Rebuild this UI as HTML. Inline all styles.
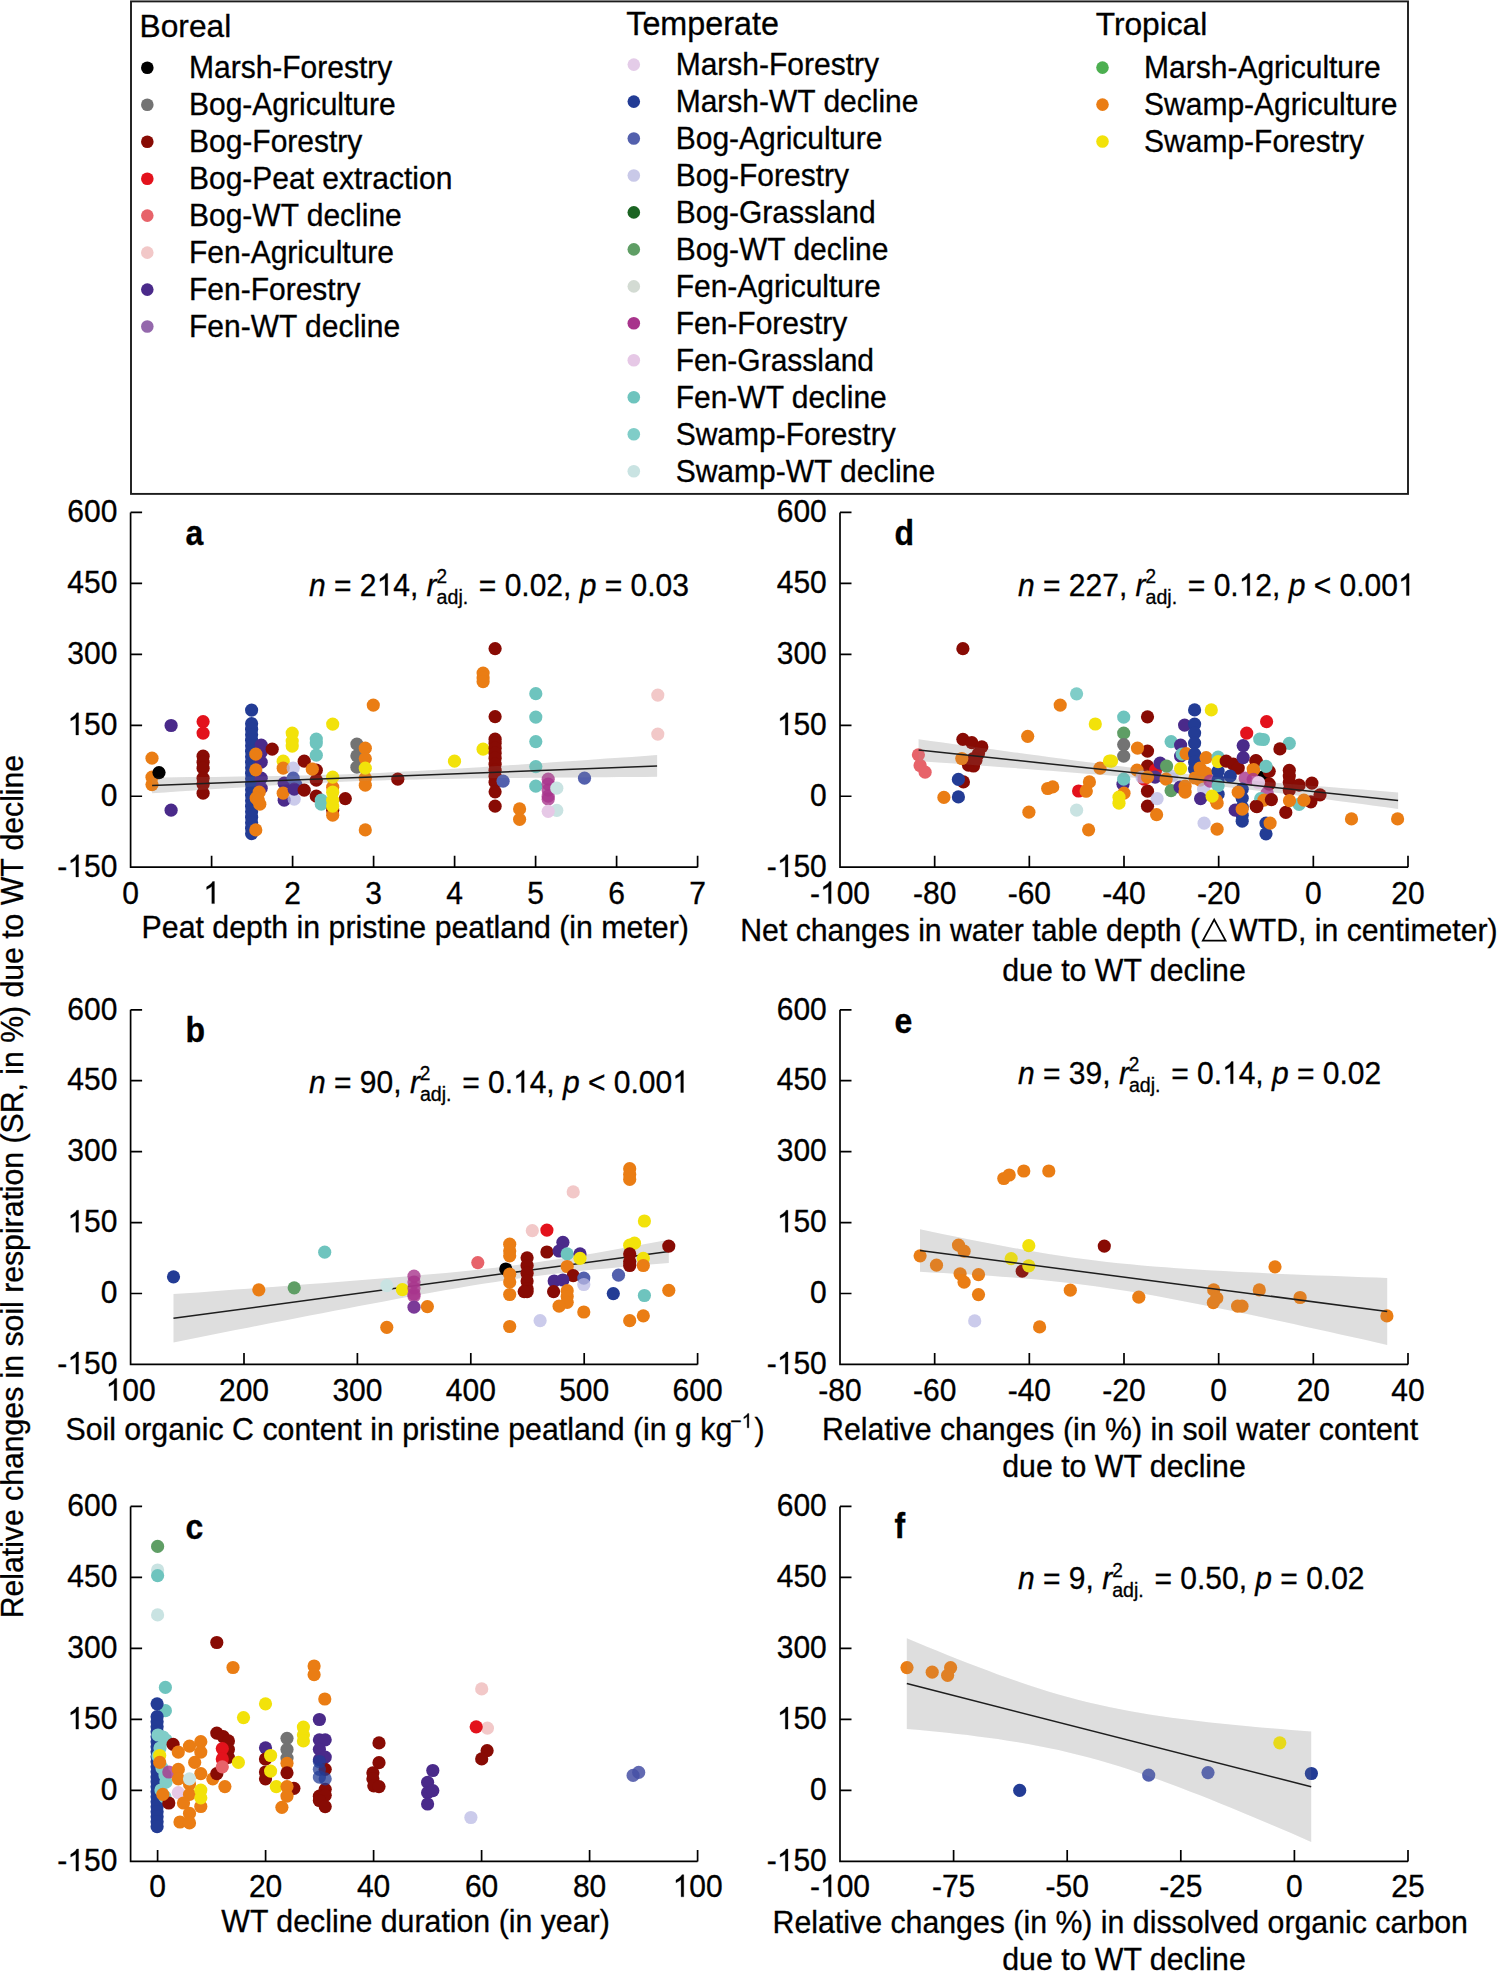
<!DOCTYPE html><html><head><meta charset="utf-8"><style>html,body{margin:0;padding:0;background:#fff;overflow:hidden;}svg{display:block;}text{font-family:"Liberation Sans", sans-serif;fill:#000;stroke:#000;stroke-width:0.3px;}</style></head><body>
<svg width="1498" height="1971" viewBox="0 0 1498 1971">
<rect x="0" y="0" width="1498" height="1971" fill="#fff"/>
<rect x="131.0" y="1.4" width="1277.0" height="492.5" fill="none" stroke="#1c1c1c" stroke-width="1.9"/>
<text transform="translate(139.60,37.00) scale(1,1.0)" font-size="31.7">Boreal</text>
<circle cx="147.3" cy="67.8" r="6.3" fill="#000000"/>
<text transform="translate(189.00,78.30) scale(1,1.03)" font-size="30">Marsh-Forestry</text>
<circle cx="147.3" cy="104.8" r="6.3" fill="#737373"/>
<text transform="translate(189.00,115.26) scale(1,1.03)" font-size="30">Bog-Agriculture</text>
<circle cx="147.3" cy="141.7" r="6.3" fill="#880b04"/>
<text transform="translate(189.00,152.22) scale(1,1.03)" font-size="30">Bog-Forestry</text>
<circle cx="147.3" cy="178.7" r="6.3" fill="#e3121c"/>
<text transform="translate(189.00,189.18) scale(1,1.03)" font-size="30">Bog-Peat extraction</text>
<circle cx="147.3" cy="215.6" r="6.3" fill="#e7636a"/>
<text transform="translate(189.00,226.14) scale(1,1.03)" font-size="30">Bog-WT decline</text>
<circle cx="147.3" cy="252.6" r="6.3" fill="#f2c8c8"/>
<text transform="translate(189.00,263.10) scale(1,1.03)" font-size="30">Fen-Agriculture</text>
<circle cx="147.3" cy="289.6" r="6.3" fill="#4a2a8a"/>
<text transform="translate(189.00,300.06) scale(1,1.03)" font-size="30">Fen-Forestry</text>
<circle cx="147.3" cy="326.5" r="6.3" fill="#9468ac"/>
<text transform="translate(189.00,337.02) scale(1,1.03)" font-size="30">Fen-WT decline</text>
<text transform="translate(626.25,35.00) scale(1,1.0)" font-size="32.3">Temperate</text>
<circle cx="633.8" cy="64.6" r="6.3" fill="#e4cce8"/>
<text transform="translate(675.70,75.10) scale(1,1.03)" font-size="30">Marsh-Forestry</text>
<circle cx="633.8" cy="101.6" r="6.3" fill="#233c95"/>
<text transform="translate(675.70,112.06) scale(1,1.03)" font-size="30">Marsh-WT decline</text>
<circle cx="633.8" cy="138.5" r="6.3" fill="#5360ad"/>
<text transform="translate(675.70,149.02) scale(1,1.03)" font-size="30">Bog-Agriculture</text>
<circle cx="633.8" cy="175.5" r="6.3" fill="#c9c9e8"/>
<text transform="translate(675.70,185.98) scale(1,1.03)" font-size="30">Bog-Forestry</text>
<circle cx="633.8" cy="212.4" r="6.3" fill="#1b6422"/>
<text transform="translate(675.70,222.94) scale(1,1.03)" font-size="30">Bog-Grassland</text>
<circle cx="633.8" cy="249.4" r="6.3" fill="#5f9e65"/>
<text transform="translate(675.70,259.90) scale(1,1.03)" font-size="30">Bog-WT decline</text>
<circle cx="633.8" cy="286.4" r="6.3" fill="#d3dbd3"/>
<text transform="translate(675.70,296.86) scale(1,1.03)" font-size="30">Fen-Agriculture</text>
<circle cx="633.8" cy="323.3" r="6.3" fill="#a8348c"/>
<text transform="translate(675.70,333.82) scale(1,1.03)" font-size="30">Fen-Forestry</text>
<circle cx="633.8" cy="360.3" r="6.3" fill="#e6c8e6"/>
<text transform="translate(675.70,370.78) scale(1,1.03)" font-size="30">Fen-Grassland</text>
<circle cx="633.8" cy="397.2" r="6.3" fill="#6ec4be"/>
<text transform="translate(675.70,407.74) scale(1,1.03)" font-size="30">Fen-WT decline</text>
<circle cx="633.8" cy="434.2" r="6.3" fill="#80cdc8"/>
<text transform="translate(675.70,444.70) scale(1,1.03)" font-size="30">Swamp-Forestry</text>
<circle cx="633.8" cy="471.2" r="6.3" fill="#c9e3e2"/>
<text transform="translate(675.70,481.66) scale(1,1.03)" font-size="30">Swamp-WT decline</text>
<text transform="translate(1095.75,35.20) scale(1,1.0)" font-size="31.7">Tropical</text>
<circle cx="1102.5" cy="67.6" r="6.3" fill="#4caf50"/>
<text transform="translate(1144.10,78.10) scale(1,1.03)" font-size="30">Marsh-Agriculture</text>
<circle cx="1102.5" cy="104.6" r="6.3" fill="#ea7d14"/>
<text transform="translate(1144.10,115.06) scale(1,1.03)" font-size="30">Swamp-Agriculture</text>
<circle cx="1102.5" cy="141.5" r="6.3" fill="#f2e20a"/>
<text transform="translate(1144.10,152.02) scale(1,1.03)" font-size="30">Swamp-Forestry</text>
<g>
<path d="M152.1,777.5L164.7,777.4L177.3,777.3L189.9,777.1L202.6,777.0L215.2,776.9L227.8,776.7L240.4,776.6L253.1,776.4L265.7,776.2L278.3,776.0L290.9,775.7L303.6,775.5L316.2,775.1L328.8,774.8L341.5,774.4L354.1,773.9L366.7,773.4L379.3,772.9L392.0,772.3L404.6,771.6L417.2,771.0L429.8,770.3L442.5,769.5L455.1,768.8L467.7,768.0L480.3,767.2L493.0,766.3L505.6,765.5L518.2,764.7L530.8,763.8L543.5,763.0L556.1,762.1L568.7,761.3L581.3,760.4L594.0,759.5L606.6,758.6L619.2,757.7L631.8,756.9L644.5,756.0L657.1,755.1L657.1,776.8L644.5,776.9L631.8,777.0L619.2,777.1L606.6,777.2L594.0,777.3L581.3,777.4L568.7,777.5L556.1,777.6L543.5,777.7L530.8,777.8L518.2,777.9L505.6,778.0L493.0,778.2L480.3,778.3L467.7,778.5L455.1,778.7L442.5,778.9L429.8,779.1L417.2,779.4L404.6,779.7L392.0,780.0L379.3,780.4L366.7,780.8L354.1,781.3L341.5,781.8L328.8,782.4L316.2,783.0L303.6,783.6L290.9,784.3L278.3,785.0L265.7,785.8L253.1,786.6L240.4,787.4L227.8,788.2L215.2,789.0L202.6,789.8L189.9,790.7L177.3,791.5L164.7,792.4L152.1,793.2Z" fill="#e8e8e8"/>
<circle cx="152.0" cy="758.2" r="6.6" fill="#ea7d14"/>
<circle cx="152.0" cy="777.2" r="6.6" fill="#ea7d14"/>
<circle cx="152.0" cy="784.6" r="6.6" fill="#ea7d14"/>
<circle cx="159.0" cy="772.6" r="6.6" fill="#000000"/>
<circle cx="171.1" cy="725.5" r="6.6" fill="#4a2a8a"/>
<circle cx="171.1" cy="810.2" r="6.6" fill="#4a2a8a"/>
<circle cx="203.1" cy="721.7" r="6.6" fill="#e3121c"/>
<circle cx="203.1" cy="733.1" r="6.6" fill="#e3121c"/>
<circle cx="203.1" cy="756.2" r="6.6" fill="#880b04"/>
<circle cx="203.1" cy="762.2" r="6.6" fill="#880b04"/>
<circle cx="203.1" cy="768.2" r="6.6" fill="#880b04"/>
<circle cx="203.1" cy="778.2" r="6.6" fill="#880b04"/>
<circle cx="203.1" cy="784.2" r="6.6" fill="#880b04"/>
<circle cx="203.1" cy="793.2" r="6.6" fill="#880b04"/>
<circle cx="251.6" cy="710.1" r="6.6" fill="#233c95"/>
<circle cx="251.6" cy="723.7" r="6.6" fill="#233c95"/>
<circle cx="251.6" cy="729.2" r="6.6" fill="#233c95"/>
<circle cx="251.6" cy="734.7" r="6.6" fill="#233c95"/>
<circle cx="251.6" cy="740.2" r="6.6" fill="#233c95"/>
<circle cx="251.6" cy="745.7" r="6.6" fill="#233c95"/>
<circle cx="251.6" cy="751.2" r="6.6" fill="#233c95"/>
<circle cx="251.6" cy="756.7" r="6.6" fill="#233c95"/>
<circle cx="251.6" cy="762.2" r="6.6" fill="#233c95"/>
<circle cx="251.6" cy="767.7" r="6.6" fill="#233c95"/>
<circle cx="251.6" cy="773.2" r="6.6" fill="#233c95"/>
<circle cx="251.6" cy="778.7" r="6.6" fill="#233c95"/>
<circle cx="251.6" cy="784.2" r="6.6" fill="#233c95"/>
<circle cx="251.6" cy="789.7" r="6.6" fill="#233c95"/>
<circle cx="251.6" cy="795.2" r="6.6" fill="#233c95"/>
<circle cx="251.6" cy="800.7" r="6.6" fill="#233c95"/>
<circle cx="251.6" cy="806.2" r="6.6" fill="#233c95"/>
<circle cx="251.6" cy="811.7" r="6.6" fill="#233c95"/>
<circle cx="251.6" cy="817.2" r="6.6" fill="#233c95"/>
<circle cx="251.6" cy="822.7" r="6.6" fill="#233c95"/>
<circle cx="251.6" cy="828.2" r="6.6" fill="#233c95"/>
<circle cx="251.6" cy="833.7" r="6.6" fill="#233c95"/>
<circle cx="261.2" cy="745.1" r="6.6" fill="#4a2a8a"/>
<circle cx="261.2" cy="752.1" r="6.6" fill="#4a2a8a"/>
<circle cx="261.2" cy="762.2" r="6.6" fill="#4a2a8a"/>
<circle cx="261.2" cy="778.2" r="6.6" fill="#4a2a8a"/>
<circle cx="261.2" cy="788.2" r="6.6" fill="#4a2a8a"/>
<circle cx="255.8" cy="754.2" r="6.6" fill="#ea7d14"/>
<circle cx="255.8" cy="769.8" r="6.6" fill="#ea7d14"/>
<circle cx="259.2" cy="792.2" r="6.6" fill="#ea7d14"/>
<circle cx="256.2" cy="798.2" r="6.6" fill="#ea7d14"/>
<circle cx="259.8" cy="804.2" r="6.6" fill="#ea7d14"/>
<circle cx="255.8" cy="829.9" r="6.6" fill="#ea7d14"/>
<circle cx="258.2" cy="800.2" r="6.6" fill="#ea7d14"/>
<circle cx="272.2" cy="749.2" r="6.6" fill="#880b04"/>
<circle cx="292.2" cy="733.1" r="6.6" fill="#f2e20a"/>
<circle cx="292.2" cy="741.1" r="6.6" fill="#f2e20a"/>
<circle cx="292.2" cy="746.1" r="6.6" fill="#f2e20a"/>
<circle cx="283.2" cy="761.2" r="6.6" fill="#f2e20a"/>
<circle cx="283.2" cy="768.2" r="6.6" fill="#ea7d14"/>
<circle cx="284.2" cy="783.2" r="6.6" fill="#4a2a8a"/>
<circle cx="284.2" cy="800.2" r="6.6" fill="#4a2a8a"/>
<circle cx="283.2" cy="793.2" r="6.6" fill="#ea7d14"/>
<circle cx="293.2" cy="768.2" r="6.6" fill="rgba(185,185,228,0.75)"/>
<circle cx="294.2" cy="799.2" r="6.6" fill="rgba(185,185,228,0.75)"/>
<circle cx="293.2" cy="778.2" r="6.6" fill="#5360ad"/>
<circle cx="296.0" cy="785.0" r="6.6" fill="#5360ad"/>
<circle cx="294.2" cy="789.2" r="6.6" fill="#4a2a8a"/>
<circle cx="304.2" cy="761.2" r="6.6" fill="#880b04"/>
<circle cx="304.2" cy="790.2" r="6.6" fill="#880b04"/>
<circle cx="316.3" cy="770.2" r="6.6" fill="#880b04"/>
<circle cx="316.3" cy="780.2" r="6.6" fill="#880b04"/>
<circle cx="316.3" cy="796.2" r="6.6" fill="#880b04"/>
<circle cx="312.3" cy="769.2" r="6.6" fill="#ea7d14"/>
<circle cx="316.3" cy="739.1" r="6.6" fill="#6ec4be"/>
<circle cx="316.3" cy="743.1" r="6.6" fill="#6ec4be"/>
<circle cx="316.3" cy="755.2" r="6.6" fill="#6ec4be"/>
<circle cx="321.3" cy="800.2" r="6.6" fill="#6ec4be"/>
<circle cx="321.3" cy="804.2" r="6.6" fill="#6ec4be"/>
<circle cx="332.7" cy="810.2" r="6.6" fill="#880b04"/>
<circle cx="345.3" cy="798.6" r="6.6" fill="#880b04"/>
<circle cx="332.7" cy="787.2" r="6.6" fill="#ea7d14"/>
<circle cx="332.7" cy="815.2" r="6.6" fill="#ea7d14"/>
<circle cx="332.7" cy="724.1" r="6.6" fill="#f2e20a"/>
<circle cx="332.7" cy="777.2" r="6.6" fill="#f2e20a"/>
<circle cx="332.7" cy="792.2" r="6.6" fill="#f2e20a"/>
<circle cx="332.7" cy="800.2" r="6.6" fill="#f2e20a"/>
<circle cx="332.7" cy="806.2" r="6.6" fill="#f2e20a"/>
<circle cx="356.9" cy="744.1" r="6.6" fill="#737373"/>
<circle cx="356.9" cy="755.8" r="6.6" fill="#737373"/>
<circle cx="356.9" cy="767.2" r="6.6" fill="#737373"/>
<circle cx="365.3" cy="748.2" r="6.6" fill="#ea7d14"/>
<circle cx="365.3" cy="758.6" r="6.6" fill="#ea7d14"/>
<circle cx="365.3" cy="778.2" r="6.6" fill="#ea7d14"/>
<circle cx="365.3" cy="785.2" r="6.6" fill="#ea7d14"/>
<circle cx="365.3" cy="829.9" r="6.6" fill="#ea7d14"/>
<circle cx="365.3" cy="768.2" r="6.6" fill="#f2e20a"/>
<circle cx="373.3" cy="705.1" r="6.6" fill="#ea7d14"/>
<circle cx="397.8" cy="779.2" r="6.6" fill="#880b04"/>
<circle cx="454.5" cy="761.2" r="6.6" fill="#f2e20a"/>
<circle cx="483.1" cy="749.2" r="6.6" fill="#f2e20a"/>
<circle cx="483.1" cy="673.1" r="6.6" fill="#ea7d14"/>
<circle cx="483.1" cy="678.1" r="6.6" fill="#ea7d14"/>
<circle cx="483.1" cy="681.7" r="6.6" fill="#ea7d14"/>
<circle cx="495.1" cy="648.6" r="6.6" fill="#880b04"/>
<circle cx="495.1" cy="716.7" r="6.6" fill="#880b04"/>
<circle cx="495.1" cy="739.2" r="6.6" fill="#880b04"/>
<circle cx="495.1" cy="743.2" r="6.6" fill="#880b04"/>
<circle cx="495.1" cy="748.2" r="6.6" fill="#880b04"/>
<circle cx="495.1" cy="753.2" r="6.6" fill="#880b04"/>
<circle cx="495.1" cy="758.2" r="6.6" fill="#880b04"/>
<circle cx="495.1" cy="764.2" r="6.6" fill="#880b04"/>
<circle cx="495.1" cy="770.2" r="6.6" fill="#880b04"/>
<circle cx="495.1" cy="776.2" r="6.6" fill="#880b04"/>
<circle cx="495.1" cy="782.2" r="6.6" fill="#880b04"/>
<circle cx="495.1" cy="791.8" r="6.6" fill="#880b04"/>
<circle cx="495.1" cy="806.2" r="6.6" fill="#880b04"/>
<circle cx="503.1" cy="781.2" r="6.6" fill="#5360ad"/>
<circle cx="584.5" cy="778.2" r="6.6" fill="#5360ad"/>
<circle cx="535.8" cy="693.7" r="6.6" fill="#6ec4be"/>
<circle cx="535.8" cy="717.1" r="6.6" fill="#6ec4be"/>
<circle cx="535.8" cy="741.6" r="6.6" fill="#6ec4be"/>
<circle cx="535.8" cy="766.6" r="6.6" fill="#6ec4be"/>
<circle cx="535.8" cy="786.2" r="6.6" fill="#6ec4be"/>
<circle cx="548.2" cy="779.2" r="6.6" fill="rgba(168,52,140,0.8)"/>
<circle cx="548.2" cy="784.2" r="6.6" fill="rgba(168,52,140,0.8)"/>
<circle cx="548.2" cy="790.2" r="6.6" fill="rgba(168,52,140,0.8)"/>
<circle cx="548.2" cy="796.2" r="6.6" fill="rgba(168,52,140,0.8)"/>
<circle cx="548.2" cy="799.2" r="6.6" fill="rgba(168,52,140,0.8)"/>
<circle cx="556.8" cy="788.2" r="6.6" fill="#c9e3e2"/>
<circle cx="556.8" cy="810.3" r="6.6" fill="#c9e3e2"/>
<circle cx="548.2" cy="811.3" r="6.6" fill="#e6c8e6"/>
<circle cx="519.6" cy="808.9" r="6.6" fill="#ea7d14"/>
<circle cx="519.6" cy="819.3" r="6.6" fill="#ea7d14"/>
<circle cx="657.8" cy="695.1" r="6.6" fill="#f2c8c8"/>
<circle cx="657.8" cy="734.1" r="6.6" fill="#f2c8c8"/>
<path d="M152.1,777.5L164.7,777.4L177.3,777.3L189.9,777.1L202.6,777.0L215.2,776.9L227.8,776.7L240.4,776.6L253.1,776.4L265.7,776.2L278.3,776.0L290.9,775.7L303.6,775.5L316.2,775.1L328.8,774.8L341.5,774.4L354.1,773.9L366.7,773.4L379.3,772.9L392.0,772.3L404.6,771.6L417.2,771.0L429.8,770.3L442.5,769.5L455.1,768.8L467.7,768.0L480.3,767.2L493.0,766.3L505.6,765.5L518.2,764.7L530.8,763.8L543.5,763.0L556.1,762.1L568.7,761.3L581.3,760.4L594.0,759.5L606.6,758.6L619.2,757.7L631.8,756.9L644.5,756.0L657.1,755.1L657.1,776.8L644.5,776.9L631.8,777.0L619.2,777.1L606.6,777.2L594.0,777.3L581.3,777.4L568.7,777.5L556.1,777.6L543.5,777.7L530.8,777.8L518.2,777.9L505.6,778.0L493.0,778.2L480.3,778.3L467.7,778.5L455.1,778.7L442.5,778.9L429.8,779.1L417.2,779.4L404.6,779.7L392.0,780.0L379.3,780.4L366.7,780.8L354.1,781.3L341.5,781.8L328.8,782.4L316.2,783.0L303.6,783.6L290.9,784.3L278.3,785.0L265.7,785.8L253.1,786.6L240.4,787.4L227.8,788.2L215.2,789.0L202.6,789.8L189.9,790.7L177.3,791.5L164.7,792.4L152.1,793.2Z" fill="#999" fill-opacity="0.12"/>
<line x1="152.1" y1="785.4" x2="657.1" y2="766.0" stroke="#1e1e1e" stroke-width="1.5"/>
<path d="M130.6,512.4L130.6,867.2L697.6,867.2M130.6,512.40h11.5M130.6,583.36h11.5M130.6,654.32h11.5M130.6,725.28h11.5M130.6,796.24h11.5M130.6,867.20h11.5M130.60,867.2v-11.5M211.60,867.2v-11.5M292.60,867.2v-11.5M373.60,867.2v-11.5M454.60,867.2v-11.5M535.60,867.2v-11.5M616.60,867.2v-11.5M697.60,867.2v-11.5" fill="none" stroke="#000" stroke-width="1.7"/>
<text transform="translate(117.40,522.10) scale(1,1.03)" font-size="30" text-anchor="end">600</text>
<text transform="translate(117.40,593.06) scale(1,1.03)" font-size="30" text-anchor="end">450</text>
<text transform="translate(117.40,664.02) scale(1,1.03)" font-size="30" text-anchor="end">300</text>
<text transform="translate(117.40,734.98) scale(1,1.03)" font-size="30" text-anchor="end"><tspan class="d1">1</tspan>50</text>
<text transform="translate(117.40,805.94) scale(1,1.03)" font-size="30" text-anchor="end">0</text>
<text transform="translate(117.40,876.90) scale(1,1.03)" font-size="30" text-anchor="end">-<tspan class="d1">1</tspan>50</text>
<text transform="translate(130.60,903.60) scale(1,1.03)" font-size="30" text-anchor="middle">0</text>
<text transform="translate(211.60,903.60) scale(1,1.03)" font-size="30" text-anchor="middle"><tspan class="d1">1</tspan></text>
<text transform="translate(292.60,903.60) scale(1,1.03)" font-size="30" text-anchor="middle">2</text>
<text transform="translate(373.60,903.60) scale(1,1.03)" font-size="30" text-anchor="middle">3</text>
<text transform="translate(454.60,903.60) scale(1,1.03)" font-size="30" text-anchor="middle">4</text>
<text transform="translate(535.60,903.60) scale(1,1.03)" font-size="30" text-anchor="middle">5</text>
<text transform="translate(616.60,903.60) scale(1,1.03)" font-size="30" text-anchor="middle">6</text>
<text transform="translate(697.60,903.60) scale(1,1.03)" font-size="30" text-anchor="middle">7</text>
</g>
<g>
<path d="M918.6,739.2L930.6,740.9L942.5,742.5L954.5,744.2L966.5,745.8L978.5,747.5L990.5,749.1L1002.5,750.7L1014.5,752.4L1026.5,754.0L1038.4,755.6L1050.4,757.2L1062.4,758.8L1074.4,760.4L1086.4,761.9L1098.4,763.5L1110.4,765.0L1122.4,766.5L1134.3,768.0L1146.3,769.5L1158.3,770.9L1170.3,772.3L1182.3,773.6L1194.3,774.9L1206.3,776.2L1218.3,777.4L1230.2,778.6L1242.2,779.7L1254.2,780.8L1266.2,781.9L1278.2,782.9L1290.2,783.9L1302.2,784.9L1314.1,785.9L1326.1,786.8L1338.1,787.8L1350.1,788.7L1362.1,789.6L1374.1,790.6L1386.1,791.5L1398.1,792.4L1398.1,808.9L1386.1,807.3L1374.1,805.7L1362.1,804.1L1350.1,802.5L1338.1,800.9L1326.1,799.3L1314.1,797.7L1302.2,796.2L1290.2,794.6L1278.2,793.1L1266.2,791.6L1254.2,790.2L1242.2,788.7L1230.2,787.4L1218.3,786.0L1206.3,784.7L1194.3,783.4L1182.3,782.2L1170.3,781.0L1158.3,779.9L1146.3,778.8L1134.3,777.7L1122.4,776.6L1110.4,775.6L1098.4,774.6L1086.4,773.7L1074.4,772.7L1062.4,771.7L1050.4,770.8L1038.4,769.9L1026.5,769.0L1014.5,768.1L1002.5,767.2L990.5,766.3L978.5,765.4L966.5,764.5L954.5,763.6L942.5,762.7L930.6,761.9L918.6,761.0Z" fill="#e8e8e8"/>
<circle cx="1263.5" cy="776.8" r="6.6" fill="#000000"/>
<circle cx="962.9" cy="648.7" r="6.6" fill="#880b04"/>
<circle cx="962.9" cy="739.3" r="6.6" fill="#880b04"/>
<circle cx="971.8" cy="742.7" r="6.6" fill="#880b04"/>
<circle cx="981.8" cy="746.8" r="6.6" fill="#880b04"/>
<circle cx="978.5" cy="753.5" r="6.6" fill="#880b04"/>
<circle cx="973.5" cy="758.5" r="6.6" fill="#880b04"/>
<circle cx="968.5" cy="765.2" r="6.6" fill="#880b04"/>
<circle cx="973.5" cy="766.0" r="6.6" fill="#880b04"/>
<circle cx="963.4" cy="781.9" r="6.6" fill="#880b04"/>
<circle cx="976.0" cy="760.0" r="6.6" fill="#880b04"/>
<circle cx="918.4" cy="754.8" r="6.6" fill="#e7636a"/>
<circle cx="920.1" cy="765.5" r="6.6" fill="#e7636a"/>
<circle cx="925.1" cy="772.2" r="6.6" fill="#e7636a"/>
<circle cx="961.8" cy="758.5" r="6.6" fill="#ea7d14"/>
<circle cx="958.4" cy="779.4" r="6.6" fill="#233c95"/>
<circle cx="958.4" cy="796.9" r="6.6" fill="#233c95"/>
<circle cx="943.9" cy="797.4" r="6.6" fill="#ea7d14"/>
<circle cx="1027.7" cy="736.3" r="6.6" fill="#ea7d14"/>
<circle cx="1028.9" cy="812.2" r="6.6" fill="#ea7d14"/>
<circle cx="1060.2" cy="705.1" r="6.6" fill="#ea7d14"/>
<circle cx="1076.6" cy="693.8" r="6.6" fill="#80cdc8"/>
<circle cx="1095.3" cy="724.0" r="6.6" fill="#f2e20a"/>
<circle cx="1100.0" cy="768.2" r="6.6" fill="#ea7d14"/>
<circle cx="1047.7" cy="788.5" r="6.6" fill="#ea7d14"/>
<circle cx="1052.7" cy="786.9" r="6.6" fill="#ea7d14"/>
<circle cx="1086.1" cy="791.0" r="6.6" fill="#ea7d14"/>
<circle cx="1089.4" cy="781.9" r="6.6" fill="#ea7d14"/>
<circle cx="1088.6" cy="829.8" r="6.6" fill="#ea7d14"/>
<circle cx="1109.5" cy="761.0" r="6.6" fill="#f2e20a"/>
<circle cx="1078.6" cy="791.0" r="6.6" fill="#e3121c"/>
<circle cx="1086.1" cy="791.0" r="6.6" fill="#ea7d14"/>
<circle cx="1076.6" cy="810.2" r="6.6" fill="#c9e3e2"/>
<circle cx="1123.7" cy="717.1" r="6.6" fill="#6ec4be"/>
<circle cx="1123.7" cy="733.1" r="6.6" fill="#5f9e65"/>
<circle cx="1123.7" cy="744.6" r="6.6" fill="#737373"/>
<circle cx="1123.7" cy="756.1" r="6.6" fill="#737373"/>
<circle cx="1111.5" cy="761.1" r="6.6" fill="#f2e20a"/>
<circle cx="1123.0" cy="784.2" r="6.6" fill="#4a2a8a"/>
<circle cx="1123.7" cy="779.2" r="6.6" fill="#6ec4be"/>
<circle cx="1124.0" cy="793.2" r="6.6" fill="#ea7d14"/>
<circle cx="1119.0" cy="797.2" r="6.6" fill="#f2e20a"/>
<circle cx="1119.0" cy="803.2" r="6.6" fill="#f2e20a"/>
<circle cx="1147.5" cy="716.8" r="6.6" fill="#880b04"/>
<circle cx="1147.5" cy="751.1" r="6.6" fill="#880b04"/>
<circle cx="1147.5" cy="766.1" r="6.6" fill="#880b04"/>
<circle cx="1147.5" cy="791.2" r="6.6" fill="#880b04"/>
<circle cx="1147.5" cy="806.2" r="6.6" fill="#880b04"/>
<circle cx="1137.5" cy="748.1" r="6.6" fill="#ea7d14"/>
<circle cx="1137.0" cy="770.1" r="6.6" fill="#ea7d14"/>
<circle cx="1155.6" cy="770.1" r="6.6" fill="#e3121c"/>
<circle cx="1144.0" cy="779.2" r="6.6" fill="#e3121c"/>
<circle cx="1142.0" cy="777.0" r="6.6" fill="rgba(185,185,228,0.75)"/>
<circle cx="1157.1" cy="798.7" r="6.6" fill="rgba(185,185,228,0.75)"/>
<circle cx="1172.0" cy="776.0" r="6.6" fill="rgba(185,185,228,0.75)"/>
<circle cx="1160.1" cy="763.1" r="6.6" fill="#4a2a8a"/>
<circle cx="1155.1" cy="777.2" r="6.6" fill="#4a2a8a"/>
<circle cx="1147.5" cy="777.2" r="6.6" fill="#ea7d14"/>
<circle cx="1156.6" cy="814.7" r="6.6" fill="#ea7d14"/>
<circle cx="1166.6" cy="766.1" r="6.6" fill="#5f9e65"/>
<circle cx="1171.1" cy="741.6" r="6.6" fill="#6ec4be"/>
<circle cx="1180.6" cy="745.1" r="6.6" fill="#4a2a8a"/>
<circle cx="1180.6" cy="756.1" r="6.6" fill="#4a2a8a"/>
<circle cx="1184.6" cy="725.1" r="6.6" fill="#4a2a8a"/>
<circle cx="1182.1" cy="754.1" r="6.6" fill="#6ec4be"/>
<circle cx="1186.1" cy="753.6" r="6.6" fill="#ea7d14"/>
<circle cx="1180.6" cy="768.6" r="6.6" fill="#f2e20a"/>
<circle cx="1166.1" cy="779.2" r="6.6" fill="#ea7d14"/>
<circle cx="1171.1" cy="790.7" r="6.6" fill="#5f9e65"/>
<circle cx="1194.6" cy="709.9" r="6.6" fill="#233c95"/>
<circle cx="1194.6" cy="724.1" r="6.6" fill="#233c95"/>
<circle cx="1194.6" cy="733.1" r="6.6" fill="#233c95"/>
<circle cx="1194.6" cy="743.1" r="6.6" fill="#233c95"/>
<circle cx="1194.6" cy="754.1" r="6.6" fill="#233c95"/>
<circle cx="1194.6" cy="762.0" r="6.6" fill="#233c95"/>
<circle cx="1194.6" cy="769.1" r="6.6" fill="#233c95"/>
<circle cx="1211.3" cy="709.9" r="6.6" fill="#f2e20a"/>
<circle cx="1180.1" cy="787.2" r="6.6" fill="#4a2a8a"/>
<circle cx="1185.1" cy="786.2" r="6.6" fill="#ea7d14"/>
<circle cx="1185.1" cy="792.2" r="6.6" fill="#ea7d14"/>
<circle cx="1200.1" cy="768.1" r="6.6" fill="#ea7d14"/>
<circle cx="1206.1" cy="757.6" r="6.6" fill="#ea7d14"/>
<circle cx="1200.1" cy="780.2" r="6.6" fill="#ea7d14"/>
<circle cx="1206.1" cy="773.1" r="6.6" fill="#ea7d14"/>
<circle cx="1195.0" cy="778.0" r="6.6" fill="#ea7d14"/>
<circle cx="1203.6" cy="789.2" r="6.6" fill="rgba(185,185,228,0.75)"/>
<circle cx="1204.1" cy="823.2" r="6.6" fill="rgba(185,185,228,0.75)"/>
<circle cx="1200.6" cy="798.7" r="6.6" fill="#4a2a8a"/>
<circle cx="1217.1" cy="829.2" r="6.6" fill="#ea7d14"/>
<circle cx="1210.1" cy="781.2" r="6.6" fill="rgba(168,52,140,0.8)"/>
<circle cx="1218.1" cy="771.1" r="6.6" fill="#233c95"/>
<circle cx="1218.1" cy="794.2" r="6.6" fill="#233c95"/>
<circle cx="1218.1" cy="780.0" r="6.6" fill="#233c95"/>
<circle cx="1218.1" cy="757.1" r="6.6" fill="#6ec4be"/>
<circle cx="1218.1" cy="785.7" r="6.6" fill="#6ec4be"/>
<circle cx="1218.1" cy="761.6" r="6.6" fill="#f2e20a"/>
<circle cx="1217.1" cy="803.2" r="6.6" fill="#ea7d14"/>
<circle cx="1216.1" cy="800.2" r="6.6" fill="#ea7d14"/>
<circle cx="1212.1" cy="796.2" r="6.6" fill="#f2e20a"/>
<circle cx="1226.2" cy="761.1" r="6.6" fill="#880b04"/>
<circle cx="1233.2" cy="764.1" r="6.6" fill="#880b04"/>
<circle cx="1238.2" cy="768.1" r="6.6" fill="#880b04"/>
<circle cx="1243.2" cy="745.6" r="6.6" fill="#4a2a8a"/>
<circle cx="1243.2" cy="757.6" r="6.6" fill="#4a2a8a"/>
<circle cx="1246.7" cy="733.1" r="6.6" fill="#e3121c"/>
<circle cx="1230.2" cy="776.2" r="6.6" fill="#233c95"/>
<circle cx="1245.2" cy="778.2" r="6.6" fill="rgba(168,52,140,0.8)"/>
<circle cx="1242.2" cy="789.2" r="6.6" fill="#233c95"/>
<circle cx="1242.2" cy="798.2" r="6.6" fill="#233c95"/>
<circle cx="1242.2" cy="807.2" r="6.6" fill="#233c95"/>
<circle cx="1242.2" cy="815.2" r="6.6" fill="#233c95"/>
<circle cx="1242.2" cy="821.2" r="6.6" fill="#233c95"/>
<circle cx="1235.2" cy="810.2" r="6.6" fill="#4a2a8a"/>
<circle cx="1238.2" cy="792.2" r="6.6" fill="#ea7d14"/>
<circle cx="1242.2" cy="809.2" r="6.6" fill="#ea7d14"/>
<circle cx="1256.2" cy="761.1" r="6.6" fill="#880b04"/>
<circle cx="1256.2" cy="806.2" r="6.6" fill="#880b04"/>
<circle cx="1253.2" cy="769.1" r="6.6" fill="#ea7d14"/>
<circle cx="1259.7" cy="739.1" r="6.6" fill="#6ec4be"/>
<circle cx="1266.6" cy="721.7" r="6.6" fill="#e3121c"/>
<circle cx="1263.4" cy="739.5" r="6.6" fill="#6ec4be"/>
<circle cx="1289.3" cy="743.3" r="6.6" fill="#6ec4be"/>
<circle cx="1279.9" cy="748.9" r="6.6" fill="#880b04"/>
<circle cx="1255.9" cy="760.6" r="6.6" fill="#880b04"/>
<circle cx="1253.7" cy="769.7" r="6.6" fill="#ea7d14"/>
<circle cx="1269.2" cy="771.3" r="6.6" fill="#880b04"/>
<circle cx="1269.2" cy="784.1" r="6.6" fill="#880b04"/>
<circle cx="1266.0" cy="766.3" r="6.6" fill="#6ec4be"/>
<circle cx="1253.2" cy="779.3" r="6.6" fill="rgba(168,52,140,0.8)"/>
<circle cx="1258.5" cy="782.5" r="6.6" fill="#e6c8e6"/>
<circle cx="1267.1" cy="793.2" r="6.6" fill="rgba(168,52,140,0.8)"/>
<circle cx="1260.7" cy="798.6" r="6.6" fill="#6ec4be"/>
<circle cx="1263.9" cy="800.2" r="6.6" fill="#ea7d14"/>
<circle cx="1271.4" cy="799.6" r="6.6" fill="#880b04"/>
<circle cx="1256.9" cy="806.6" r="6.6" fill="#880b04"/>
<circle cx="1289.3" cy="770.3" r="6.6" fill="#880b04"/>
<circle cx="1289.3" cy="776.1" r="6.6" fill="#880b04"/>
<circle cx="1289.3" cy="782.5" r="6.6" fill="#880b04"/>
<circle cx="1289.3" cy="790.0" r="6.6" fill="#880b04"/>
<circle cx="1311.9" cy="783.1" r="6.6" fill="#880b04"/>
<circle cx="1299.1" cy="785.2" r="6.6" fill="#880b04"/>
<circle cx="1320.0" cy="794.8" r="6.6" fill="#880b04"/>
<circle cx="1310.9" cy="801.8" r="6.6" fill="#880b04"/>
<circle cx="1285.8" cy="812.4" r="6.6" fill="#880b04"/>
<circle cx="1299.1" cy="804.4" r="6.6" fill="#6ec4be"/>
<circle cx="1289.5" cy="800.7" r="6.6" fill="#ea7d14"/>
<circle cx="1303.9" cy="800.2" r="6.6" fill="#ea7d14"/>
<circle cx="1266.0" cy="823.1" r="6.6" fill="#233c95"/>
<circle cx="1266.0" cy="833.8" r="6.6" fill="#233c95"/>
<circle cx="1270.1" cy="823.1" r="6.6" fill="#ea7d14"/>
<circle cx="1351.5" cy="818.9" r="6.6" fill="#ea7d14"/>
<circle cx="1397.6" cy="818.9" r="6.6" fill="#ea7d14"/>
<path d="M918.6,739.2L930.6,740.9L942.5,742.5L954.5,744.2L966.5,745.8L978.5,747.5L990.5,749.1L1002.5,750.7L1014.5,752.4L1026.5,754.0L1038.4,755.6L1050.4,757.2L1062.4,758.8L1074.4,760.4L1086.4,761.9L1098.4,763.5L1110.4,765.0L1122.4,766.5L1134.3,768.0L1146.3,769.5L1158.3,770.9L1170.3,772.3L1182.3,773.6L1194.3,774.9L1206.3,776.2L1218.3,777.4L1230.2,778.6L1242.2,779.7L1254.2,780.8L1266.2,781.9L1278.2,782.9L1290.2,783.9L1302.2,784.9L1314.1,785.9L1326.1,786.8L1338.1,787.8L1350.1,788.7L1362.1,789.6L1374.1,790.6L1386.1,791.5L1398.1,792.4L1398.1,808.9L1386.1,807.3L1374.1,805.7L1362.1,804.1L1350.1,802.5L1338.1,800.9L1326.1,799.3L1314.1,797.7L1302.2,796.2L1290.2,794.6L1278.2,793.1L1266.2,791.6L1254.2,790.2L1242.2,788.7L1230.2,787.4L1218.3,786.0L1206.3,784.7L1194.3,783.4L1182.3,782.2L1170.3,781.0L1158.3,779.9L1146.3,778.8L1134.3,777.7L1122.4,776.6L1110.4,775.6L1098.4,774.6L1086.4,773.7L1074.4,772.7L1062.4,771.7L1050.4,770.8L1038.4,769.9L1026.5,769.0L1014.5,768.1L1002.5,767.2L990.5,766.3L978.5,765.4L966.5,764.5L954.5,763.6L942.5,762.7L930.6,761.9L918.6,761.0Z" fill="#999" fill-opacity="0.12"/>
<line x1="918.6" y1="750.1" x2="1398.1" y2="800.6" stroke="#1e1e1e" stroke-width="1.5"/>
<path d="M840.0,512.4L840.0,867.2L1408.0,867.2M840.0,512.40h11.5M840.0,583.36h11.5M840.0,654.32h11.5M840.0,725.28h11.5M840.0,796.24h11.5M840.0,867.20h11.5M840.00,867.2v-11.5M934.67,867.2v-11.5M1029.33,867.2v-11.5M1124.00,867.2v-11.5M1218.67,867.2v-11.5M1313.33,867.2v-11.5M1408.00,867.2v-11.5" fill="none" stroke="#000" stroke-width="1.7"/>
<text transform="translate(826.80,522.10) scale(1,1.03)" font-size="30" text-anchor="end">600</text>
<text transform="translate(826.80,593.06) scale(1,1.03)" font-size="30" text-anchor="end">450</text>
<text transform="translate(826.80,664.02) scale(1,1.03)" font-size="30" text-anchor="end">300</text>
<text transform="translate(826.80,734.98) scale(1,1.03)" font-size="30" text-anchor="end"><tspan class="d1">1</tspan>50</text>
<text transform="translate(826.80,805.94) scale(1,1.03)" font-size="30" text-anchor="end">0</text>
<text transform="translate(826.80,876.90) scale(1,1.03)" font-size="30" text-anchor="end">-<tspan class="d1">1</tspan>50</text>
<text transform="translate(840.00,903.60) scale(1,1.03)" font-size="30" text-anchor="middle">-<tspan class="d1">1</tspan>00</text>
<text transform="translate(934.67,903.60) scale(1,1.03)" font-size="30" text-anchor="middle">-80</text>
<text transform="translate(1029.33,903.60) scale(1,1.03)" font-size="30" text-anchor="middle">-60</text>
<text transform="translate(1124.00,903.60) scale(1,1.03)" font-size="30" text-anchor="middle">-40</text>
<text transform="translate(1218.67,903.60) scale(1,1.03)" font-size="30" text-anchor="middle">-20</text>
<text transform="translate(1313.33,903.60) scale(1,1.03)" font-size="30" text-anchor="middle">0</text>
<text transform="translate(1408.00,903.60) scale(1,1.03)" font-size="30" text-anchor="middle">20</text>
</g>
<g>
<path d="M173.5,1294.1L185.8,1293.2L198.2,1292.4L210.6,1291.5L223.0,1290.6L235.4,1289.6L247.8,1288.7L260.1,1287.8L272.5,1286.9L284.9,1286.0L297.3,1285.1L309.7,1284.1L322.1,1283.2L334.4,1282.2L346.8,1281.3L359.2,1280.3L371.6,1279.3L384.0,1278.3L396.4,1277.3L408.7,1276.2L421.1,1275.1L433.5,1274.0L445.9,1272.9L458.3,1271.7L470.7,1270.4L483.0,1269.1L495.4,1267.7L507.8,1266.2L520.2,1264.6L532.6,1262.9L545.0,1261.1L557.3,1259.3L569.7,1257.3L582.1,1255.3L594.5,1253.2L606.9,1251.0L619.3,1248.8L631.6,1246.6L644.0,1244.3L656.4,1242.0L668.8,1239.7L668.8,1263.0L656.4,1264.0L644.0,1265.1L631.6,1266.1L619.3,1267.2L606.9,1268.4L594.5,1269.6L582.1,1270.8L569.7,1272.2L557.3,1273.5L545.0,1275.0L532.6,1276.6L520.2,1278.3L507.8,1280.0L495.4,1281.9L483.0,1283.8L470.7,1285.8L458.3,1287.9L445.9,1290.1L433.5,1292.2L421.1,1294.5L408.7,1296.7L396.4,1299.0L384.0,1301.4L371.6,1303.7L359.2,1306.0L346.8,1308.4L334.4,1310.8L322.1,1313.2L309.7,1315.6L297.3,1318.0L284.9,1320.4L272.5,1322.8L260.1,1325.3L247.8,1327.7L235.4,1330.1L223.0,1332.6L210.6,1335.0L198.2,1337.5L185.8,1339.9L173.5,1342.4Z" fill="#dedede"/>
<line x1="173.5" y1="1318.3" x2="668.8" y2="1251.4" stroke="#1e1e1e" stroke-width="1.5"/>
<circle cx="173.5" cy="1276.8" r="6.6" fill="#233c95"/>
<circle cx="258.8" cy="1289.8" r="6.6" fill="#ea7d14"/>
<circle cx="294.2" cy="1287.8" r="6.6" fill="#5f9e65"/>
<circle cx="324.7" cy="1252.2" r="6.6" fill="#6ec4be"/>
<circle cx="386.8" cy="1285.6" r="6.6" fill="#c9e3e2"/>
<circle cx="402.4" cy="1289.6" r="6.6" fill="#f2e20a"/>
<circle cx="414.0" cy="1276.2" r="6.6" fill="rgba(168,52,140,0.8)"/>
<circle cx="414.0" cy="1282.0" r="6.6" fill="rgba(168,52,140,0.8)"/>
<circle cx="414.0" cy="1288.0" r="6.6" fill="rgba(168,52,140,0.8)"/>
<circle cx="414.0" cy="1294.0" r="6.6" fill="rgba(168,52,140,0.8)"/>
<circle cx="414.0" cy="1296.2" r="6.6" fill="rgba(168,52,140,0.8)"/>
<circle cx="414.0" cy="1307.2" r="6.6" fill="#7b3a98"/>
<circle cx="427.4" cy="1306.6" r="6.6" fill="#ea7d14"/>
<circle cx="386.8" cy="1327.3" r="6.6" fill="#ea7d14"/>
<circle cx="629.7" cy="1168.7" r="6.6" fill="#ea7d14"/>
<circle cx="629.7" cy="1174.5" r="6.6" fill="#ea7d14"/>
<circle cx="629.7" cy="1179.4" r="6.6" fill="#ea7d14"/>
<circle cx="573.2" cy="1191.9" r="6.6" fill="#f2c8c8"/>
<circle cx="532.3" cy="1230.7" r="6.6" fill="#f2c8c8"/>
<circle cx="546.9" cy="1230.1" r="6.6" fill="#e3121c"/>
<circle cx="644.4" cy="1221.0" r="6.6" fill="#f2e20a"/>
<circle cx="477.8" cy="1262.6" r="6.6" fill="#e7636a"/>
<circle cx="505.8" cy="1269.0" r="6.6" fill="#000000"/>
<circle cx="509.7" cy="1244.2" r="6.6" fill="#ea7d14"/>
<circle cx="509.7" cy="1251.0" r="6.6" fill="#ea7d14"/>
<circle cx="509.7" cy="1255.8" r="6.6" fill="#ea7d14"/>
<circle cx="509.7" cy="1274.2" r="6.6" fill="#ea7d14"/>
<circle cx="509.7" cy="1282.0" r="6.6" fill="#ea7d14"/>
<circle cx="509.7" cy="1294.5" r="6.6" fill="#ea7d14"/>
<circle cx="509.7" cy="1326.5" r="6.6" fill="#ea7d14"/>
<circle cx="527.1" cy="1257.8" r="6.6" fill="#880b04"/>
<circle cx="527.1" cy="1265.5" r="6.6" fill="#880b04"/>
<circle cx="527.1" cy="1273.2" r="6.6" fill="#880b04"/>
<circle cx="527.1" cy="1281.0" r="6.6" fill="#880b04"/>
<circle cx="527.1" cy="1288.7" r="6.6" fill="#880b04"/>
<circle cx="527.1" cy="1291.6" r="6.6" fill="#880b04"/>
<circle cx="524.2" cy="1291.6" r="6.6" fill="#880b04"/>
<circle cx="546.9" cy="1252.0" r="6.6" fill="#880b04"/>
<circle cx="562.9" cy="1242.3" r="6.6" fill="#4a2a8a"/>
<circle cx="559.1" cy="1251.0" r="6.6" fill="#4a2a8a"/>
<circle cx="567.2" cy="1253.9" r="6.6" fill="#6ec4be"/>
<circle cx="580.0" cy="1253.9" r="6.6" fill="#4a2a8a"/>
<circle cx="580.0" cy="1258.3" r="6.6" fill="#f2e20a"/>
<circle cx="567.2" cy="1266.5" r="6.6" fill="#ea7d14"/>
<circle cx="573.2" cy="1275.6" r="6.6" fill="#880b04"/>
<circle cx="554.2" cy="1281.0" r="6.6" fill="#4a2a8a"/>
<circle cx="562.9" cy="1280.0" r="6.6" fill="#4a2a8a"/>
<circle cx="583.8" cy="1278.1" r="6.6" fill="#5360ad"/>
<circle cx="583.8" cy="1284.5" r="6.6" fill="rgba(185,185,228,0.75)"/>
<circle cx="553.6" cy="1291.6" r="6.6" fill="#880b04"/>
<circle cx="567.2" cy="1290.7" r="6.6" fill="#ea7d14"/>
<circle cx="567.2" cy="1296.5" r="6.6" fill="#ea7d14"/>
<circle cx="567.2" cy="1302.3" r="6.6" fill="#ea7d14"/>
<circle cx="559.1" cy="1306.2" r="6.6" fill="#ea7d14"/>
<circle cx="583.8" cy="1312.0" r="6.6" fill="#ea7d14"/>
<circle cx="540.1" cy="1320.7" r="6.6" fill="rgba(185,185,228,0.75)"/>
<circle cx="618.5" cy="1275.2" r="6.6" fill="#5360ad"/>
<circle cx="613.3" cy="1293.6" r="6.6" fill="#233c95"/>
<circle cx="629.7" cy="1245.2" r="6.6" fill="#f2e20a"/>
<circle cx="634.5" cy="1243.2" r="6.6" fill="#f2e20a"/>
<circle cx="629.7" cy="1253.9" r="6.6" fill="#880b04"/>
<circle cx="629.7" cy="1261.6" r="6.6" fill="#880b04"/>
<circle cx="629.7" cy="1265.5" r="6.6" fill="#880b04"/>
<circle cx="643.3" cy="1258.3" r="6.6" fill="#f2e20a"/>
<circle cx="643.3" cy="1265.5" r="6.6" fill="#ea7d14"/>
<circle cx="644.4" cy="1295.5" r="6.6" fill="#6ec4be"/>
<circle cx="643.3" cy="1315.8" r="6.6" fill="#ea7d14"/>
<circle cx="629.7" cy="1320.7" r="6.6" fill="#ea7d14"/>
<circle cx="668.8" cy="1246.1" r="6.6" fill="#880b04"/>
<circle cx="668.8" cy="1290.3" r="6.6" fill="#ea7d14"/>
<path d="M130.6,1009.8L130.6,1364.4L697.6,1364.4M130.6,1009.80h11.5M130.6,1080.72h11.5M130.6,1151.64h11.5M130.6,1222.56h11.5M130.6,1293.48h11.5M130.6,1364.40h11.5M130.60,1364.4v-11.5M244.00,1364.4v-11.5M357.40,1364.4v-11.5M470.80,1364.4v-11.5M584.20,1364.4v-11.5M697.60,1364.4v-11.5" fill="none" stroke="#000" stroke-width="1.7"/>
<text transform="translate(117.40,1019.50) scale(1,1.03)" font-size="30" text-anchor="end">600</text>
<text transform="translate(117.40,1090.42) scale(1,1.03)" font-size="30" text-anchor="end">450</text>
<text transform="translate(117.40,1161.34) scale(1,1.03)" font-size="30" text-anchor="end">300</text>
<text transform="translate(117.40,1232.26) scale(1,1.03)" font-size="30" text-anchor="end"><tspan class="d1">1</tspan>50</text>
<text transform="translate(117.40,1303.18) scale(1,1.03)" font-size="30" text-anchor="end">0</text>
<text transform="translate(117.40,1374.10) scale(1,1.03)" font-size="30" text-anchor="end">-<tspan class="d1">1</tspan>50</text>
<text transform="translate(130.60,1400.50) scale(1,1.03)" font-size="30" text-anchor="middle"><tspan class="d1">1</tspan>00</text>
<text transform="translate(244.00,1400.50) scale(1,1.03)" font-size="30" text-anchor="middle">200</text>
<text transform="translate(357.40,1400.50) scale(1,1.03)" font-size="30" text-anchor="middle">300</text>
<text transform="translate(470.80,1400.50) scale(1,1.03)" font-size="30" text-anchor="middle">400</text>
<text transform="translate(584.20,1400.50) scale(1,1.03)" font-size="30" text-anchor="middle">500</text>
<text transform="translate(697.60,1400.50) scale(1,1.03)" font-size="30" text-anchor="middle">600</text>
</g>
<g>
<path d="M920.0,1229.3L931.7,1231.7L943.4,1234.2L955.0,1236.6L966.7,1238.9L978.4,1241.3L990.1,1243.5L1001.7,1245.8L1013.4,1247.9L1025.1,1250.0L1036.8,1252.0L1048.5,1253.9L1060.1,1255.7L1071.8,1257.4L1083.5,1259.0L1095.2,1260.5L1106.9,1261.9L1118.5,1263.2L1130.2,1264.3L1141.9,1265.4L1153.6,1266.4L1165.3,1267.3L1176.9,1268.2L1188.6,1269.0L1200.3,1269.7L1212.0,1270.4L1223.7,1271.1L1235.3,1271.7L1247.0,1272.3L1258.7,1272.8L1270.4,1273.4L1282.1,1273.9L1293.7,1274.4L1305.4,1274.9L1317.1,1275.4L1328.8,1275.8L1340.5,1276.3L1352.1,1276.7L1363.8,1277.2L1375.5,1277.6L1387.2,1278.0L1387.2,1344.9L1375.5,1342.2L1363.8,1339.6L1352.1,1337.0L1340.5,1334.4L1328.8,1331.8L1317.1,1329.3L1305.4,1326.7L1293.7,1324.1L1282.1,1321.6L1270.4,1319.1L1258.7,1316.6L1247.0,1314.1L1235.3,1311.6L1223.7,1309.2L1212.0,1306.8L1200.3,1304.5L1188.6,1302.2L1176.9,1299.9L1165.3,1297.7L1153.6,1295.6L1141.9,1293.5L1130.2,1291.6L1118.5,1289.7L1106.9,1287.9L1095.2,1286.3L1083.5,1284.7L1071.8,1283.2L1060.1,1281.9L1048.5,1280.7L1036.8,1279.5L1025.1,1278.5L1013.4,1277.5L1001.7,1276.7L990.1,1275.8L978.4,1275.1L966.7,1274.3L955.0,1273.7L943.4,1273.0L931.7,1272.4L920.0,1271.8Z" fill="#e8e8e8"/>
<circle cx="1003.8" cy="1178.5" r="6.6" fill="#ea7d14"/>
<circle cx="1009.2" cy="1175.0" r="6.6" fill="#ea7d14"/>
<circle cx="1023.8" cy="1171.0" r="6.6" fill="#ea7d14"/>
<circle cx="1048.8" cy="1171.0" r="6.6" fill="#ea7d14"/>
<circle cx="920.1" cy="1255.8" r="6.6" fill="#ea7d14"/>
<circle cx="958.5" cy="1245.1" r="6.6" fill="#ea7d14"/>
<circle cx="964.1" cy="1251.2" r="6.6" fill="#ea7d14"/>
<circle cx="936.5" cy="1265.2" r="6.6" fill="#ea7d14"/>
<circle cx="960.1" cy="1273.8" r="6.6" fill="#ea7d14"/>
<circle cx="964.1" cy="1282.2" r="6.6" fill="#ea7d14"/>
<circle cx="978.5" cy="1274.6" r="6.6" fill="#ea7d14"/>
<circle cx="978.5" cy="1294.6" r="6.6" fill="#ea7d14"/>
<circle cx="974.7" cy="1320.9" r="6.6" fill="rgba(185,185,228,0.75)"/>
<circle cx="1028.8" cy="1245.7" r="6.6" fill="#f2e20a"/>
<circle cx="1011.2" cy="1258.6" r="6.6" fill="#f2e20a"/>
<circle cx="1022.2" cy="1271.2" r="6.6" fill="#880b04"/>
<circle cx="1028.8" cy="1265.8" r="6.6" fill="#f2e20a"/>
<circle cx="1039.6" cy="1326.9" r="6.6" fill="#ea7d14"/>
<circle cx="1104.3" cy="1246.1" r="6.6" fill="#880b04"/>
<circle cx="1070.3" cy="1290.2" r="6.6" fill="#ea7d14"/>
<circle cx="1138.8" cy="1297.2" r="6.6" fill="#ea7d14"/>
<circle cx="1275.0" cy="1266.8" r="6.6" fill="#ea7d14"/>
<circle cx="1213.7" cy="1289.9" r="6.6" fill="#ea7d14"/>
<circle cx="1216.8" cy="1298.1" r="6.6" fill="#ea7d14"/>
<circle cx="1213.3" cy="1302.7" r="6.6" fill="#ea7d14"/>
<circle cx="1237.6" cy="1306.2" r="6.6" fill="#ea7d14"/>
<circle cx="1242.0" cy="1306.2" r="6.6" fill="#ea7d14"/>
<circle cx="1259.3" cy="1289.9" r="6.6" fill="#ea7d14"/>
<circle cx="1300.1" cy="1297.5" r="6.6" fill="#ea7d14"/>
<circle cx="1386.9" cy="1315.9" r="6.6" fill="#ea7d14"/>
<path d="M920.0,1229.3L931.7,1231.7L943.4,1234.2L955.0,1236.6L966.7,1238.9L978.4,1241.3L990.1,1243.5L1001.7,1245.8L1013.4,1247.9L1025.1,1250.0L1036.8,1252.0L1048.5,1253.9L1060.1,1255.7L1071.8,1257.4L1083.5,1259.0L1095.2,1260.5L1106.9,1261.9L1118.5,1263.2L1130.2,1264.3L1141.9,1265.4L1153.6,1266.4L1165.3,1267.3L1176.9,1268.2L1188.6,1269.0L1200.3,1269.7L1212.0,1270.4L1223.7,1271.1L1235.3,1271.7L1247.0,1272.3L1258.7,1272.8L1270.4,1273.4L1282.1,1273.9L1293.7,1274.4L1305.4,1274.9L1317.1,1275.4L1328.8,1275.8L1340.5,1276.3L1352.1,1276.7L1363.8,1277.2L1375.5,1277.6L1387.2,1278.0L1387.2,1344.9L1375.5,1342.2L1363.8,1339.6L1352.1,1337.0L1340.5,1334.4L1328.8,1331.8L1317.1,1329.3L1305.4,1326.7L1293.7,1324.1L1282.1,1321.6L1270.4,1319.1L1258.7,1316.6L1247.0,1314.1L1235.3,1311.6L1223.7,1309.2L1212.0,1306.8L1200.3,1304.5L1188.6,1302.2L1176.9,1299.9L1165.3,1297.7L1153.6,1295.6L1141.9,1293.5L1130.2,1291.6L1118.5,1289.7L1106.9,1287.9L1095.2,1286.3L1083.5,1284.7L1071.8,1283.2L1060.1,1281.9L1048.5,1280.7L1036.8,1279.5L1025.1,1278.5L1013.4,1277.5L1001.7,1276.7L990.1,1275.8L978.4,1275.1L966.7,1274.3L955.0,1273.7L943.4,1273.0L931.7,1272.4L920.0,1271.8Z" fill="#999" fill-opacity="0.12"/>
<line x1="920.0" y1="1250.5" x2="1387.2" y2="1311.4" stroke="#1e1e1e" stroke-width="1.5"/>
<path d="M840.0,1009.8L840.0,1364.4L1408.0,1364.4M840.0,1009.80h11.5M840.0,1080.72h11.5M840.0,1151.64h11.5M840.0,1222.56h11.5M840.0,1293.48h11.5M840.0,1364.40h11.5M840.00,1364.4v-11.5M934.67,1364.4v-11.5M1029.33,1364.4v-11.5M1124.00,1364.4v-11.5M1218.67,1364.4v-11.5M1313.33,1364.4v-11.5M1408.00,1364.4v-11.5" fill="none" stroke="#000" stroke-width="1.7"/>
<text transform="translate(826.80,1019.50) scale(1,1.03)" font-size="30" text-anchor="end">600</text>
<text transform="translate(826.80,1090.42) scale(1,1.03)" font-size="30" text-anchor="end">450</text>
<text transform="translate(826.80,1161.34) scale(1,1.03)" font-size="30" text-anchor="end">300</text>
<text transform="translate(826.80,1232.26) scale(1,1.03)" font-size="30" text-anchor="end"><tspan class="d1">1</tspan>50</text>
<text transform="translate(826.80,1303.18) scale(1,1.03)" font-size="30" text-anchor="end">0</text>
<text transform="translate(826.80,1374.10) scale(1,1.03)" font-size="30" text-anchor="end">-<tspan class="d1">1</tspan>50</text>
<text transform="translate(840.00,1400.50) scale(1,1.03)" font-size="30" text-anchor="middle">-80</text>
<text transform="translate(934.67,1400.50) scale(1,1.03)" font-size="30" text-anchor="middle">-60</text>
<text transform="translate(1029.33,1400.50) scale(1,1.03)" font-size="30" text-anchor="middle">-40</text>
<text transform="translate(1124.00,1400.50) scale(1,1.03)" font-size="30" text-anchor="middle">-20</text>
<text transform="translate(1218.67,1400.50) scale(1,1.03)" font-size="30" text-anchor="middle">0</text>
<text transform="translate(1313.33,1400.50) scale(1,1.03)" font-size="30" text-anchor="middle">20</text>
<text transform="translate(1408.00,1400.50) scale(1,1.03)" font-size="30" text-anchor="middle">40</text>
</g>
<g>
<circle cx="157.6" cy="1546.4" r="6.6" fill="#5f9e65"/>
<circle cx="157.6" cy="1570.0" r="6.6" fill="#c9e3e2"/>
<circle cx="157.6" cy="1575.6" r="6.6" fill="#6ec4be"/>
<circle cx="157.6" cy="1614.9" r="6.6" fill="#c9e3e2"/>
<circle cx="216.8" cy="1642.5" r="6.6" fill="#880b04"/>
<circle cx="233.0" cy="1667.5" r="6.6" fill="#ea7d14"/>
<circle cx="314.1" cy="1666.0" r="6.6" fill="#ea7d14"/>
<circle cx="314.1" cy="1674.7" r="6.6" fill="#ea7d14"/>
<circle cx="324.8" cy="1699.0" r="6.6" fill="#ea7d14"/>
<circle cx="165.4" cy="1687.4" r="6.6" fill="#6ec4be"/>
<circle cx="165.4" cy="1710.7" r="6.6" fill="#6ec4be"/>
<circle cx="157.1" cy="1703.8" r="6.6" fill="#233c95"/>
<circle cx="157.1" cy="1716.7" r="6.6" fill="#233c95"/>
<circle cx="157.1" cy="1721.7" r="6.6" fill="#233c95"/>
<circle cx="157.1" cy="1726.7" r="6.6" fill="#233c95"/>
<circle cx="157.1" cy="1731.7" r="6.6" fill="#233c95"/>
<circle cx="157.1" cy="1736.7" r="6.6" fill="#233c95"/>
<circle cx="157.1" cy="1741.7" r="6.6" fill="#233c95"/>
<circle cx="157.1" cy="1746.7" r="6.6" fill="#233c95"/>
<circle cx="157.1" cy="1751.7" r="6.6" fill="#233c95"/>
<circle cx="157.1" cy="1756.7" r="6.6" fill="#233c95"/>
<circle cx="157.1" cy="1761.7" r="6.6" fill="#233c95"/>
<circle cx="157.1" cy="1766.7" r="6.6" fill="#233c95"/>
<circle cx="157.1" cy="1771.7" r="6.6" fill="#233c95"/>
<circle cx="157.1" cy="1776.7" r="6.6" fill="#233c95"/>
<circle cx="157.1" cy="1781.7" r="6.6" fill="#233c95"/>
<circle cx="157.1" cy="1786.7" r="6.6" fill="#233c95"/>
<circle cx="157.1" cy="1791.7" r="6.6" fill="#233c95"/>
<circle cx="157.1" cy="1796.7" r="6.6" fill="#233c95"/>
<circle cx="157.1" cy="1801.7" r="6.6" fill="#233c95"/>
<circle cx="157.1" cy="1806.7" r="6.6" fill="#233c95"/>
<circle cx="157.1" cy="1811.7" r="6.6" fill="#233c95"/>
<circle cx="157.1" cy="1816.7" r="6.6" fill="#233c95"/>
<circle cx="157.1" cy="1821.7" r="6.6" fill="#233c95"/>
<circle cx="157.1" cy="1826.7" r="6.6" fill="#233c95"/>
<circle cx="265.5" cy="1703.8" r="6.6" fill="#f2e20a"/>
<circle cx="243.5" cy="1717.6" r="6.6" fill="#f2e20a"/>
<circle cx="319.4" cy="1719.5" r="6.6" fill="#4a2a8a"/>
<circle cx="158.0" cy="1735.0" r="6.6" fill="#80cdc8"/>
<circle cx="163.0" cy="1737.0" r="6.6" fill="#80cdc8"/>
<circle cx="166.0" cy="1740.0" r="6.6" fill="#80cdc8"/>
<circle cx="160.0" cy="1748.0" r="6.6" fill="#80cdc8"/>
<circle cx="158.0" cy="1756.0" r="6.6" fill="#80cdc8"/>
<circle cx="162.0" cy="1768.0" r="6.6" fill="#80cdc8"/>
<circle cx="165.0" cy="1775.0" r="6.6" fill="#80cdc8"/>
<circle cx="166.0" cy="1782.0" r="6.6" fill="#80cdc8"/>
<circle cx="161.0" cy="1790.0" r="6.6" fill="#80cdc8"/>
<circle cx="165.0" cy="1797.0" r="6.6" fill="#80cdc8"/>
<circle cx="173.1" cy="1744.3" r="6.6" fill="#880b04"/>
<circle cx="168.8" cy="1803.0" r="6.6" fill="#880b04"/>
<circle cx="159.7" cy="1755.5" r="6.6" fill="#f2e20a"/>
<circle cx="159.7" cy="1762.4" r="6.6" fill="#ea7d14"/>
<circle cx="162.8" cy="1794.4" r="6.6" fill="#ea7d14"/>
<circle cx="168.8" cy="1772.0" r="6.6" fill="rgba(168,52,140,0.8)"/>
<circle cx="178.3" cy="1792.6" r="6.6" fill="#e6c8e6"/>
<circle cx="200.8" cy="1741.7" r="6.6" fill="#ea7d14"/>
<circle cx="189.5" cy="1746.1" r="6.6" fill="#ea7d14"/>
<circle cx="178.3" cy="1752.1" r="6.6" fill="#ea7d14"/>
<circle cx="200.8" cy="1752.1" r="6.6" fill="#ea7d14"/>
<circle cx="194.7" cy="1762.4" r="6.6" fill="#ea7d14"/>
<circle cx="178.3" cy="1769.4" r="6.6" fill="#ea7d14"/>
<circle cx="178.3" cy="1778.8" r="6.6" fill="#ea7d14"/>
<circle cx="200.8" cy="1773.7" r="6.6" fill="#ea7d14"/>
<circle cx="189.5" cy="1784.0" r="6.6" fill="#ea7d14"/>
<circle cx="212.8" cy="1778.8" r="6.6" fill="#ea7d14"/>
<circle cx="224.9" cy="1786.6" r="6.6" fill="#ea7d14"/>
<circle cx="189.5" cy="1794.4" r="6.6" fill="#ea7d14"/>
<circle cx="200.8" cy="1806.5" r="6.6" fill="#ea7d14"/>
<circle cx="183.5" cy="1803.0" r="6.6" fill="#ea7d14"/>
<circle cx="189.5" cy="1813.4" r="6.6" fill="#ea7d14"/>
<circle cx="180.0" cy="1822.0" r="6.6" fill="#ea7d14"/>
<circle cx="189.5" cy="1822.9" r="6.6" fill="#ea7d14"/>
<circle cx="189.5" cy="1778.8" r="6.6" fill="#c9e3e2"/>
<circle cx="200.8" cy="1790.1" r="6.6" fill="#f2e20a"/>
<circle cx="200.8" cy="1797.8" r="6.6" fill="#f2e20a"/>
<circle cx="216.8" cy="1733.1" r="6.6" fill="#880b04"/>
<circle cx="223.2" cy="1736.6" r="6.6" fill="#880b04"/>
<circle cx="228.4" cy="1740.9" r="6.6" fill="#880b04"/>
<circle cx="228.4" cy="1749.5" r="6.6" fill="#880b04"/>
<circle cx="228.4" cy="1757.3" r="6.6" fill="#880b04"/>
<circle cx="216.8" cy="1773.7" r="6.6" fill="#880b04"/>
<circle cx="222.3" cy="1748.6" r="6.6" fill="#e3121c"/>
<circle cx="222.3" cy="1759.0" r="6.6" fill="#e3121c"/>
<circle cx="222.3" cy="1766.8" r="6.6" fill="#e7636a"/>
<circle cx="238.4" cy="1762.4" r="6.6" fill="#f2e20a"/>
<circle cx="265.5" cy="1747.8" r="6.6" fill="#4a2a8a"/>
<circle cx="265.5" cy="1759.0" r="6.6" fill="#880b04"/>
<circle cx="265.5" cy="1772.0" r="6.6" fill="#880b04"/>
<circle cx="265.5" cy="1778.8" r="6.6" fill="#880b04"/>
<circle cx="270.6" cy="1755.5" r="6.6" fill="#f2e20a"/>
<circle cx="270.6" cy="1771.1" r="6.6" fill="#f2e20a"/>
<circle cx="276.3" cy="1786.6" r="6.6" fill="#f2e20a"/>
<circle cx="287.0" cy="1738.3" r="6.6" fill="#737373"/>
<circle cx="287.0" cy="1749.5" r="6.6" fill="#737373"/>
<circle cx="287.0" cy="1758.1" r="6.6" fill="#737373"/>
<circle cx="287.0" cy="1763.3" r="6.6" fill="#ea7d14"/>
<circle cx="287.0" cy="1772.8" r="6.6" fill="#880b04"/>
<circle cx="293.9" cy="1788.3" r="6.6" fill="#880b04"/>
<circle cx="287.0" cy="1786.6" r="6.6" fill="#ea7d14"/>
<circle cx="287.0" cy="1796.1" r="6.6" fill="#ea7d14"/>
<circle cx="281.9" cy="1807.3" r="6.6" fill="#ea7d14"/>
<circle cx="303.4" cy="1727.1" r="6.6" fill="#f2e20a"/>
<circle cx="303.4" cy="1734.8" r="6.6" fill="#f2e20a"/>
<circle cx="303.4" cy="1740.9" r="6.6" fill="#f2e20a"/>
<circle cx="319.4" cy="1739.8" r="6.6" fill="#4a2a8a"/>
<circle cx="325.2" cy="1739.8" r="6.6" fill="#4a2a8a"/>
<circle cx="319.4" cy="1749.3" r="6.6" fill="#4a2a8a"/>
<circle cx="325.2" cy="1757.1" r="6.6" fill="#4a2a8a"/>
<circle cx="319.4" cy="1759.7" r="6.6" fill="#4a2a8a"/>
<circle cx="325.2" cy="1769.3" r="6.6" fill="#880b04"/>
<circle cx="325.2" cy="1789.3" r="6.6" fill="#880b04"/>
<circle cx="319.4" cy="1796.2" r="6.6" fill="#880b04"/>
<circle cx="325.2" cy="1795.3" r="6.6" fill="#880b04"/>
<circle cx="319.4" cy="1800.5" r="6.6" fill="#880b04"/>
<circle cx="325.2" cy="1806.6" r="6.6" fill="#880b04"/>
<circle cx="319.4" cy="1761.5" r="6.6" fill="rgba(35,60,149,0.75)"/>
<circle cx="319.4" cy="1769.3" r="6.6" fill="rgba(35,60,149,0.75)"/>
<circle cx="319.4" cy="1777.1" r="6.6" fill="rgba(35,60,149,0.75)"/>
<circle cx="325.2" cy="1778.8" r="6.6" fill="rgba(35,60,149,0.75)"/>
<circle cx="379.0" cy="1742.9" r="6.6" fill="#880b04"/>
<circle cx="379.0" cy="1762.7" r="6.6" fill="#880b04"/>
<circle cx="372.9" cy="1772.8" r="6.6" fill="#880b04"/>
<circle cx="372.9" cy="1778.8" r="6.6" fill="#880b04"/>
<circle cx="373.8" cy="1785.8" r="6.6" fill="#880b04"/>
<circle cx="379.0" cy="1786.6" r="6.6" fill="#880b04"/>
<circle cx="432.8" cy="1770.5" r="6.6" fill="#4a2a8a"/>
<circle cx="427.6" cy="1782.3" r="6.6" fill="#4a2a8a"/>
<circle cx="427.6" cy="1792.7" r="6.6" fill="#4a2a8a"/>
<circle cx="432.8" cy="1790.6" r="6.6" fill="#4a2a8a"/>
<circle cx="427.6" cy="1804.0" r="6.6" fill="#4a2a8a"/>
<circle cx="481.7" cy="1688.9" r="6.6" fill="#f2c8c8"/>
<circle cx="487.4" cy="1728.2" r="6.6" fill="#f2c8c8"/>
<circle cx="476.2" cy="1726.8" r="6.6" fill="#e3121c"/>
<circle cx="487.1" cy="1750.7" r="6.6" fill="#880b04"/>
<circle cx="481.7" cy="1758.9" r="6.6" fill="#880b04"/>
<circle cx="470.9" cy="1817.5" r="6.6" fill="rgba(185,185,228,0.75)"/>
<circle cx="633.1" cy="1775.4" r="6.6" fill="rgba(70,80,165,0.85)"/>
<circle cx="638.7" cy="1772.4" r="6.6" fill="rgba(70,80,165,0.85)"/>
<path d="M130.6,1506.4L130.6,1861.4L697.6,1861.4M130.6,1506.40h11.5M130.6,1577.40h11.5M130.6,1648.40h11.5M130.6,1719.40h11.5M130.6,1790.40h11.5M130.6,1861.40h11.5M157.60,1861.4v-11.5M265.60,1861.4v-11.5M373.60,1861.4v-11.5M481.60,1861.4v-11.5M589.60,1861.4v-11.5M697.60,1861.4v-11.5" fill="none" stroke="#000" stroke-width="1.7"/>
<text transform="translate(117.40,1516.10) scale(1,1.03)" font-size="30" text-anchor="end">600</text>
<text transform="translate(117.40,1587.10) scale(1,1.03)" font-size="30" text-anchor="end">450</text>
<text transform="translate(117.40,1658.10) scale(1,1.03)" font-size="30" text-anchor="end">300</text>
<text transform="translate(117.40,1729.10) scale(1,1.03)" font-size="30" text-anchor="end"><tspan class="d1">1</tspan>50</text>
<text transform="translate(117.40,1800.10) scale(1,1.03)" font-size="30" text-anchor="end">0</text>
<text transform="translate(117.40,1871.10) scale(1,1.03)" font-size="30" text-anchor="end">-<tspan class="d1">1</tspan>50</text>
<text transform="translate(157.60,1896.80) scale(1,1.03)" font-size="30" text-anchor="middle">0</text>
<text transform="translate(265.60,1896.80) scale(1,1.03)" font-size="30" text-anchor="middle">20</text>
<text transform="translate(373.60,1896.80) scale(1,1.03)" font-size="30" text-anchor="middle">40</text>
<text transform="translate(481.60,1896.80) scale(1,1.03)" font-size="30" text-anchor="middle">60</text>
<text transform="translate(589.60,1896.80) scale(1,1.03)" font-size="30" text-anchor="middle">80</text>
<text transform="translate(697.60,1896.80) scale(1,1.03)" font-size="30" text-anchor="middle"><tspan class="d1">1</tspan>00</text>
</g>
<g>
<path d="M906.8,1638.3L916.9,1642.5L927.0,1646.7L937.1,1650.8L947.2,1654.9L957.3,1658.9L967.5,1662.9L977.6,1666.8L987.7,1670.6L997.8,1674.4L1007.9,1678.0L1018.0,1681.5L1028.1,1685.0L1038.2,1688.2L1048.3,1691.4L1058.5,1694.4L1068.6,1697.2L1078.7,1699.9L1088.8,1702.4L1098.9,1704.8L1109.0,1707.0L1119.1,1709.1L1129.2,1711.0L1139.3,1712.8L1149.4,1714.4L1159.6,1716.0L1169.7,1717.4L1179.8,1718.8L1189.9,1720.1L1200.0,1721.3L1210.1,1722.4L1220.2,1723.5L1230.3,1724.6L1240.4,1725.5L1250.6,1726.5L1260.7,1727.4L1270.8,1728.3L1280.9,1729.1L1291.0,1729.9L1301.1,1730.7L1311.2,1731.5L1311.2,1841.9L1301.1,1837.5L1291.0,1833.1L1280.9,1828.8L1270.8,1824.4L1260.7,1820.2L1250.6,1815.9L1240.4,1811.7L1230.3,1807.5L1220.2,1803.4L1210.1,1799.3L1200.0,1795.3L1189.9,1791.4L1179.8,1787.5L1169.7,1783.7L1159.6,1780.0L1149.4,1776.4L1139.3,1772.9L1129.2,1769.6L1119.1,1766.3L1109.0,1763.2L1098.9,1760.3L1088.8,1757.5L1078.7,1754.9L1068.6,1752.4L1058.5,1750.1L1048.3,1747.9L1038.2,1745.9L1028.1,1744.0L1018.0,1742.3L1007.9,1740.7L997.8,1739.1L987.7,1737.7L977.6,1736.4L967.5,1735.1L957.3,1734.0L947.2,1732.8L937.1,1731.8L927.0,1730.8L916.9,1729.8L906.8,1728.9Z" fill="#e8e8e8"/>
<circle cx="907.0" cy="1667.6" r="6.6" fill="#ea7d14"/>
<circle cx="932.2" cy="1672.2" r="6.6" fill="#ea7d14"/>
<circle cx="950.6" cy="1667.6" r="6.6" fill="#ea7d14"/>
<circle cx="947.6" cy="1675.3" r="6.6" fill="#ea7d14"/>
<circle cx="1019.7" cy="1790.4" r="6.6" fill="#233c95"/>
<circle cx="1311.4" cy="1773.5" r="6.6" fill="#233c95"/>
<circle cx="1148.7" cy="1775.1" r="6.6" fill="#5360ad"/>
<circle cx="1208.0" cy="1772.6" r="6.6" fill="#5360ad"/>
<circle cx="1279.8" cy="1742.8" r="6.6" fill="#f2e20a"/>
<path d="M906.8,1638.3L916.9,1642.5L927.0,1646.7L937.1,1650.8L947.2,1654.9L957.3,1658.9L967.5,1662.9L977.6,1666.8L987.7,1670.6L997.8,1674.4L1007.9,1678.0L1018.0,1681.5L1028.1,1685.0L1038.2,1688.2L1048.3,1691.4L1058.5,1694.4L1068.6,1697.2L1078.7,1699.9L1088.8,1702.4L1098.9,1704.8L1109.0,1707.0L1119.1,1709.1L1129.2,1711.0L1139.3,1712.8L1149.4,1714.4L1159.6,1716.0L1169.7,1717.4L1179.8,1718.8L1189.9,1720.1L1200.0,1721.3L1210.1,1722.4L1220.2,1723.5L1230.3,1724.6L1240.4,1725.5L1250.6,1726.5L1260.7,1727.4L1270.8,1728.3L1280.9,1729.1L1291.0,1729.9L1301.1,1730.7L1311.2,1731.5L1311.2,1841.9L1301.1,1837.5L1291.0,1833.1L1280.9,1828.8L1270.8,1824.4L1260.7,1820.2L1250.6,1815.9L1240.4,1811.7L1230.3,1807.5L1220.2,1803.4L1210.1,1799.3L1200.0,1795.3L1189.9,1791.4L1179.8,1787.5L1169.7,1783.7L1159.6,1780.0L1149.4,1776.4L1139.3,1772.9L1129.2,1769.6L1119.1,1766.3L1109.0,1763.2L1098.9,1760.3L1088.8,1757.5L1078.7,1754.9L1068.6,1752.4L1058.5,1750.1L1048.3,1747.9L1038.2,1745.9L1028.1,1744.0L1018.0,1742.3L1007.9,1740.7L997.8,1739.1L987.7,1737.7L977.6,1736.4L967.5,1735.1L957.3,1734.0L947.2,1732.8L937.1,1731.8L927.0,1730.8L916.9,1729.8L906.8,1728.9Z" fill="#999" fill-opacity="0.12"/>
<line x1="906.8" y1="1683.6" x2="1311.2" y2="1786.7" stroke="#1e1e1e" stroke-width="1.5"/>
<path d="M840.0,1506.4L840.0,1861.4L1408.0,1861.4M840.0,1506.40h11.5M840.0,1577.40h11.5M840.0,1648.40h11.5M840.0,1719.40h11.5M840.0,1790.40h11.5M840.0,1861.40h11.5M840.00,1861.4v-11.5M953.60,1861.4v-11.5M1067.20,1861.4v-11.5M1180.80,1861.4v-11.5M1294.40,1861.4v-11.5M1408.00,1861.4v-11.5" fill="none" stroke="#000" stroke-width="1.7"/>
<text transform="translate(826.80,1516.10) scale(1,1.03)" font-size="30" text-anchor="end">600</text>
<text transform="translate(826.80,1587.10) scale(1,1.03)" font-size="30" text-anchor="end">450</text>
<text transform="translate(826.80,1658.10) scale(1,1.03)" font-size="30" text-anchor="end">300</text>
<text transform="translate(826.80,1729.10) scale(1,1.03)" font-size="30" text-anchor="end"><tspan class="d1">1</tspan>50</text>
<text transform="translate(826.80,1800.10) scale(1,1.03)" font-size="30" text-anchor="end">0</text>
<text transform="translate(826.80,1871.10) scale(1,1.03)" font-size="30" text-anchor="end">-<tspan class="d1">1</tspan>50</text>
<text transform="translate(840.00,1896.80) scale(1,1.03)" font-size="30" text-anchor="middle">-<tspan class="d1">1</tspan>00</text>
<text transform="translate(953.60,1896.80) scale(1,1.03)" font-size="30" text-anchor="middle">-75</text>
<text transform="translate(1067.20,1896.80) scale(1,1.03)" font-size="30" text-anchor="middle">-50</text>
<text transform="translate(1180.80,1896.80) scale(1,1.03)" font-size="30" text-anchor="middle">-25</text>
<text transform="translate(1294.40,1896.80) scale(1,1.03)" font-size="30" text-anchor="middle">0</text>
<text transform="translate(1408.00,1896.80) scale(1,1.03)" font-size="30" text-anchor="middle">25</text>
</g>
<text transform="translate(185.60,544.80) scale(1,1.1)" font-size="32" font-weight="bold">a</text>
<text transform="translate(894.60,544.80) scale(1,1.1)" font-size="32" font-weight="bold">d</text>
<text transform="translate(185.60,1042.10) scale(1,1.1)" font-size="32" font-weight="bold">b</text>
<text transform="translate(894.60,1033.30) scale(1,1.1)" font-size="32" font-weight="bold">e</text>
<text transform="translate(185.60,1538.90) scale(1,1.1)" font-size="32" font-weight="bold">c</text>
<text transform="translate(894.60,1538.10) scale(1,1.1)" font-size="32" font-weight="bold">f</text>
<text transform="translate(309.00,595.50) scale(1,1.03)" font-size="30"><tspan font-style="italic">n</tspan> = 2<tspan class="d1">1</tspan>4, <tspan font-style="italic">r</tspan><tspan font-size="19" dy="-12">2</tspan><tspan font-size="19.6" dx="-10.5" dy="20">adj.</tspan><tspan dy="-8" dx="2.3"> = 0.02, </tspan><tspan font-style="italic">p</tspan> = 0.03</text>
<text transform="translate(1018.00,595.50) scale(1,1.03)" font-size="30"><tspan font-style="italic">n</tspan> = 227, <tspan font-style="italic">r</tspan><tspan font-size="19" dy="-12">2</tspan><tspan font-size="19.6" dx="-10.5" dy="20">adj.</tspan><tspan dy="-8" dx="2.3"> = 0.<tspan class="d1">1</tspan>2, </tspan><tspan font-style="italic">p</tspan> &lt; 0.00<tspan class="d1">1</tspan></text>
<text transform="translate(309.00,1092.50) scale(1,1.03)" font-size="30"><tspan font-style="italic">n</tspan> = 90, <tspan font-style="italic">r</tspan><tspan font-size="19" dy="-12">2</tspan><tspan font-size="19.6" dx="-10.5" dy="20">adj.</tspan><tspan dy="-8" dx="2.3"> = 0.<tspan class="d1">1</tspan>4, </tspan><tspan font-style="italic">p</tspan> &lt; 0.00<tspan class="d1">1</tspan></text>
<text transform="translate(1018.00,1083.70) scale(1,1.03)" font-size="30"><tspan font-style="italic">n</tspan> = 39, <tspan font-style="italic">r</tspan><tspan font-size="19" dy="-12">2</tspan><tspan font-size="19.6" dx="-10.5" dy="20">adj.</tspan><tspan dy="-8" dx="2.3"> = 0.<tspan class="d1">1</tspan>4, </tspan><tspan font-style="italic">p</tspan> = 0.02</text>
<text transform="translate(1018.00,1588.90) scale(1,1.03)" font-size="30"><tspan font-style="italic">n</tspan> = 9, <tspan font-style="italic">r</tspan><tspan font-size="19" dy="-12">2</tspan><tspan font-size="19.6" dx="-10.5" dy="20">adj.</tspan><tspan dy="-8" dx="2.3"> = 0.50, </tspan><tspan font-style="italic">p</tspan> = 0.02</text>
<text transform="translate(415.25,937.60) scale(1,1.03)" font-size="30.3" text-anchor="middle">Peat depth in pristine peatland (in meter)</text>
<text transform="translate(740.30,941.40) scale(1,1.03)" font-size="30.2">Net changes in water table depth (</text>
<path d="M1202.8,940.6L1214.2,919.6L1225.6,940.6Z" fill="none" stroke="#000" stroke-width="1.75" stroke-linejoin="miter"/>
<text transform="translate(1229.30,941.40) scale(1,1.03)" font-size="30.2">WTD, in centimeter)</text>
<text transform="translate(1124.00,981.40) scale(1,1.03)" font-size="30.3" text-anchor="middle">due to WT decline</text>
<text transform="translate(415.00,1440.20) scale(1,1.03)" font-size="30.3" text-anchor="middle">Soil organic C content in pristine peatland (in g kg<tspan font-size="19.5" dy="-12" dx="-2">−<tspan class="d1">1</tspan></tspan><tspan dy="12" dx="2">)</tspan></text>
<text transform="translate(1120.10,1440.00) scale(1,1.03)" font-size="30.3" text-anchor="middle">Relative changes (in %) in soil water content</text>
<text transform="translate(1124.00,1476.50) scale(1,1.03)" font-size="30.3" text-anchor="middle">due to WT decline</text>
<text transform="translate(415.55,1931.90) scale(1,1.03)" font-size="30.3" text-anchor="middle">WT decline duration (in year)</text>
<text transform="translate(1120.25,1933.00) scale(1,1.03)" font-size="30.3" text-anchor="middle">Relative changes (in %) in dissolved organic carbon</text>
<text transform="translate(1124.00,1969.70) scale(1,1.03)" font-size="30.3" text-anchor="middle">due to WT decline</text>
<text transform="translate(22.6,1186.6) rotate(-90) scale(1,1.03)" font-size="30.2" text-anchor="middle">Relative changes in soil respiration (SR, in %) due to WT decline</text>
</svg>
<script>
(function(){
  var NS=document.querySelector("svg").namespaceURI;
  var D="M763 0L583 0L583 1147C541 1107 485 1066 416 1026C347 985 285 955 231 935L231 1109C328 1155 413 1210 486 1276C559 1341 610 1405 640 1466L763 1466Z";
  var ts=document.querySelectorAll("tspan.d1");
  for(var i=0;i<ts.length;i++){
    var t=ts[i]; try{
    var p=t.getStartPositionOfChar(0);
    var fs=parseFloat(getComputedStyle(t).fontSize);
    var txt=t.closest("text");
    var g=document.createElementNS(NS,"g");
    g.setAttribute("transform",txt.getAttribute("transform")||"");
    var path=document.createElementNS(NS,"path");
    var k=fs/2048;
    path.setAttribute("d",D);
    path.setAttribute("transform","translate("+p.x+","+p.y+") scale("+k+","+(-k)+")");
    path.setAttribute("fill","#000");
    path.setAttribute("stroke","#000");
    path.setAttribute("stroke-width",(0.3/k).toFixed(2));
    g.appendChild(path);
    txt.parentNode.insertBefore(g,txt.nextSibling);
    t.setAttribute("style","fill:none;stroke:none");
    }catch(e){}
  }
})();
</script>
</body></html>
